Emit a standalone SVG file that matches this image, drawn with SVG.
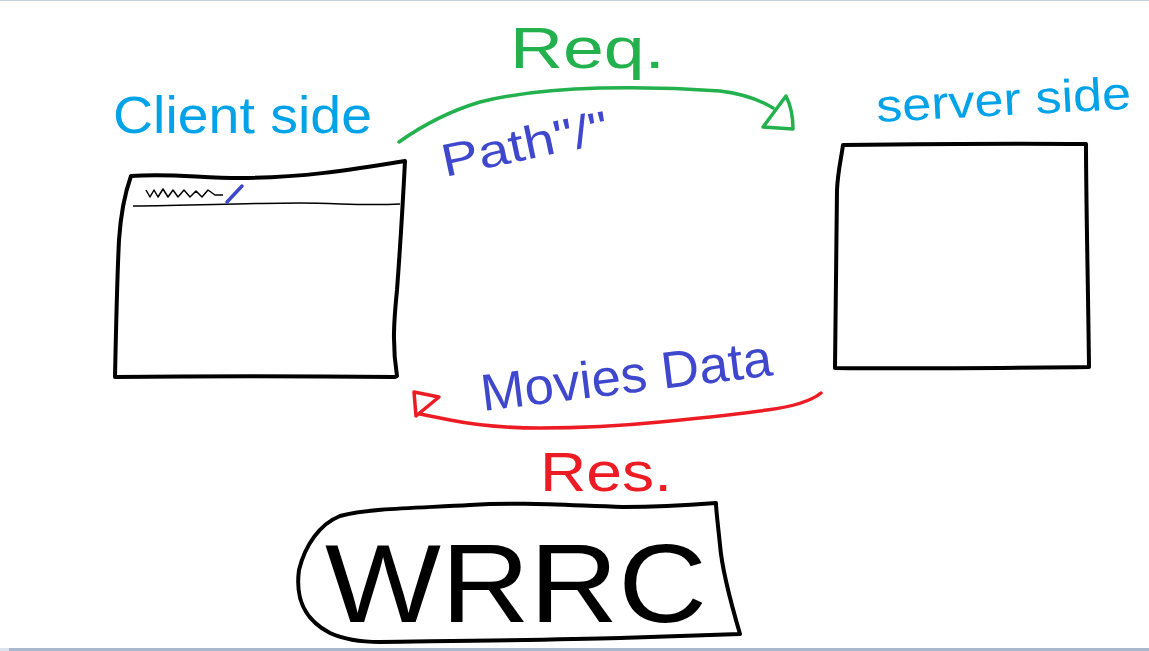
<svg xmlns="http://www.w3.org/2000/svg" width="1149" height="651" viewBox="0 0 1149 651">
<style>
.box{fill:none;stroke:#000;stroke-width:4;stroke-linejoin:round;stroke-linecap:round}
.thin{fill:none;stroke:#000;stroke-width:1.5;stroke-linejoin:round}
.hand{font-family:"Liberation Sans","DejaVu Sans",sans-serif;font-weight:normal}
.cyan{fill:#00a2e8}
.green{fill:#22b14c}
.blue{fill:#3f48cc}
.red{fill:#ed1c24}
.req{fill:none;stroke:#22b14c;stroke-width:3.5;stroke-linecap:round;stroke-linejoin:round}
.res{fill:none;stroke:#ed1c24;stroke-width:3.5;stroke-linecap:round;stroke-linejoin:round}
</style>
<rect x="0" y="0" width="1149" height="651" fill="#fff"/>
<line x1="0" y1="0.5" x2="1149" y2="0.5" stroke="#c5d1e2" stroke-width="1"/>
<rect x="0" y="648" width="1149" height="3" fill="#a9b8cc"/>
<rect x="0" y="648" width="9" height="3" fill="#dbe3ee"/>

<g id="client">
<path class="box" d="M131,176 C170,173 200,178 240,178 C300,178 350,170 405,161 C403,200 400,250 397,290 C394,320 392,345 397,376 L395,377 C300,376 200,376 115,377 C116,330 117,280 119,240 C121,210 126,190 131,176 Z"/>
<path class="thin" d="M133,206 C200,205 260,203 300,203 C340,203 360,206 400,204"/>
<path class="thin" d="M146,190 L150,197 L154,190 L158,197 L163,189 L168,197 L173,190 L178,197 L184,190 L190,197 L196,191 L202,197 L208,190 L215,195 L223,195"/>
<line x1="227" y1="202" x2="242" y2="186" stroke="#3f48cc" stroke-width="3.5" stroke-linecap="round"/>
<text class="hand cyan" x="113" y="133" font-size="52" textLength="259" lengthAdjust="spacingAndGlyphs">Client side</text>
</g>

<g id="server">
<path class="box" d="M843,145 C920,144 1000,143 1086,144 C1086,200 1088,280 1089,367 C1000,368 920,369 835,368 C836,300 836,240 837,190 C838,170 841,160 843,145 Z"/>
<text class="hand cyan" x="877" y="122" font-size="46" textLength="255" lengthAdjust="spacingAndGlyphs" transform="rotate(-3 877 122)">server side</text>
</g>

<g id="wrrc">
<path class="box" d="M716,503 C690,505 650,507 623,507 C560,505 520,502 470,505 C420,508 370,508 340,516 C320,524 305,545 299,570 C295,600 305,620 330,633 C345,640 360,642 380,642 C450,641 550,640 620,638 C680,636 715,635 740,634 C730,600 722,570 720,545 C718,525 716,510 716,503 Z"/>
<text class="hand" x="325" y="622" font-size="112" textLength="382" lengthAdjust="spacingAndGlyphs" fill="#000">WRRC</text>
</g>

<g id="connectors">
<g id="request">
<path class="req" d="M399,142 C430,120 460,108 480,102 C520,92 560,89 600,88 C640,87 680,88 720,91 C745,94 760,100 773,108"/>
<path class="req" d="M786,96 C792,108 793,118 793,129 L763,127 Z"/>
</g>
<g id="response">
<path class="res" d="M821,393 C810,402 790,407 767,410 C740,414 700,418 660,422 C620,426 580,428 540,428 C500,428 470,424 450,420 L420,414"/>
<path class="res" d="M414,392 L439,397 L416,416 Z"/>
</g>
</g>

<g id="labels">
<text class="hand green" x="510" y="68" font-size="58" textLength="155" lengthAdjust="spacingAndGlyphs">Req.</text>
<text class="hand blue" x="445" y="177" font-size="46" textLength="170" lengthAdjust="spacingAndGlyphs" transform="rotate(-12 445 177)">Path"/"</text>
<text class="hand blue" x="483" y="411" font-size="52" textLength="293" lengthAdjust="spacingAndGlyphs" transform="rotate(-7 483 411)">Movies Data</text>
<text class="hand red" x="540" y="491" font-size="56" textLength="132" lengthAdjust="spacingAndGlyphs">Res.</text>
</g>
</svg>
